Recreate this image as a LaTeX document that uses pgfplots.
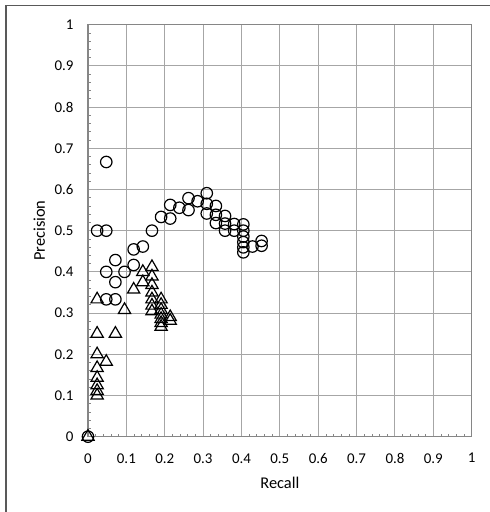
\documentclass[border=0pt]{standalone}
\usepackage{fontspec}
\setmainfont{Carlito}
\usepackage{pgfplots}
\pgfplotsset{compat=1.18}
\usepackage{pgfplotstable}

% recall / precision pairs, circles and triangles
\pgfplotstableread{
x y
0 0
0.0238 0.5
0.0476 0.6667
0.0476 0.5
0.0476 0.4
0.0476 0.3333
0.0714 0.4286
0.0714 0.375
0.0714 0.3333
0.0952 0.4
0.1190 0.4545
0.1190 0.4167
0.1429 0.4615
0.1667 0.5
0.1905 0.5333
0.2143 0.5625
0.2143 0.5294
0.2381 0.5556
0.2619 0.5789
0.2619 0.55
0.2857 0.5714
0.3095 0.5909
0.3095 0.5652
0.3095 0.5417
0.3333 0.56
0.3333 0.5385
0.3333 0.5185
0.3571 0.5357
0.3571 0.5172
0.3571 0.5
0.3810 0.5161
0.3810 0.5
0.4048 0.5152
0.4048 0.5
0.4048 0.4857
0.4048 0.4722
0.4048 0.4595
0.4048 0.4474
0.4286 0.4615
0.4524 0.475
0.4524 0.4634
}\circdata

\pgfplotstableread{
x y
0 0
0.0238 0.3333
0.0238 0.25
0.0238 0.2
0.0238 0.1667
0.0238 0.1429
0.0238 0.125
0.0238 0.1111
0.0238 0.1
0.0476 0.1818
0.0714 0.25
0.0952 0.3077
0.1190 0.3571
0.1429 0.4
0.1429 0.375
0.1667 0.4118
0.1667 0.3889
0.1667 0.3684
0.1667 0.35
0.1667 0.3333
0.1667 0.3182
0.1667 0.3043
0.1905 0.3333
0.1905 0.32
0.1905 0.3077
0.1905 0.2963
0.1905 0.2857
0.1905 0.2759
0.1905 0.2667
0.2143 0.2903
0.2143 0.2813
}\tridata

\definecolor{gridgray}{HTML}{A6A6A6}
\definecolor{axgray}{HTML}{868686}
\definecolor{framegray}{HTML}{595959}

\begin{document}
\begin{tikzpicture}
\useasboundingbox (0,0) rectangle (367.5pt,384pt);
\draw[framegray, line width=1.1pt] (4.5pt,0) -- (4.5pt,379.7pt) -- (368pt,379.7pt);
\begin{axis}[
    at={(66pt,56.5pt)}, anchor=south west,
    scale only axis,
    width=287.8pt, height=309pt,
    xmin=0, xmax=1, ymin=0, ymax=1,
    xtick={0,0.1,...,1.01}, ytick={0,0.1,...,1.01},
    minor tick num=4,
    tick pos=left,
    tick align=inside,
    major tick length=0pt,
    minor tick length=2.3pt,
    every tick/.style={axgray, line width=0.6pt},
    grid=major,
    major grid style={gridgray, line width=0.75pt},
    axis line style={axgray, line width=0.9pt},
    tick label style={font=\fontsize{11.2}{13}\selectfont},
    label style={font=\fontsize{12.3}{14}\selectfont},
    /pgf/number format/assume math mode=true,
    xticklabel style={yshift=-9pt},
    yticklabel style={xshift=-7.3pt},
    xlabel={Recall}, ylabel={Precision},
    xlabel style={at={(axis description cs:0.5,-0.1117)}, anchor=center},
    ylabel style={at={(axis description cs:-0.1268,0.5)}, anchor=center},
    clip=false,
]
\addplot[only marks, mark=o, mark size=4.3pt,
    mark options={draw=black, line width=0.9pt}] table {\circdata};
\addplot[only marks, mark=triangle, mark size=5.3pt,
    mark options={draw=black, line width=0.9pt}] table {\tridata};
\end{axis}
\end{tikzpicture}
\end{document}
